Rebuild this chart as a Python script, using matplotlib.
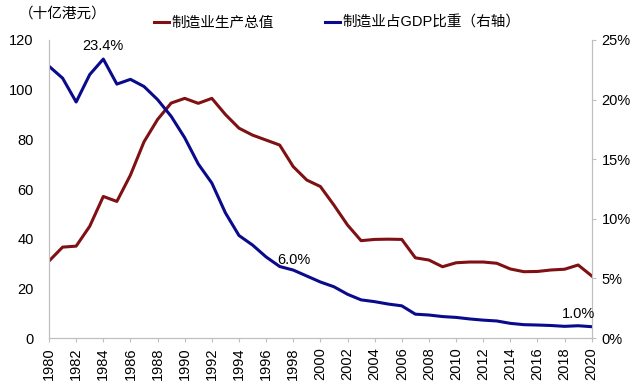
import matplotlib
matplotlib.use("Agg")
import matplotlib.pyplot as plt
from matplotlib.ticker import FuncFormatter

plt.rcParams['font.family'] = ['Liberation Sans', 'Noto Sans CJK SC', 'DejaVu Sans']

# data
years = list(range(1980, 2021))
output_value = [31, 36.6, 37, 45, 57, 55, 65.6, 79, 88, 94.6,
                96.5, 94.5, 96.5, 90, 84.5, 81.7, 79.7, 77.7, 69, 63.6,
                61, 53.5, 45.5, 39.2, 39.7, 39.8, 39.7, 32.3, 31.4, 28.7,
                30.3, 30.6, 30.6, 30.1, 27.8, 26.7, 26.8, 27.4, 27.7, 29.4,
                25]
gdp_share = [22.8, 21.8, 19.8, 22.1, 23.4, 21.3, 21.7, 21.1, 20.0, 18.6,
             16.8, 14.6, 13.0, 10.5, 8.6, 7.8, 6.8, 6.0, 5.7, 5.2,
             4.7, 4.3, 3.67, 3.2, 3.05, 2.85, 2.7, 2.0, 1.93, 1.8,
             1.73, 1.6, 1.5, 1.43, 1.23, 1.12, 1.09, 1.05, 0.98, 1.03,
             0.95]
xtick_years = list(range(1980, 2021, 2))
annotations = [(1984, 23.4), (1997, 6.0), (2020, 1.0)]

red = '#7F1014'
blue = '#0A0A8C'
grey = '#BFBFBF'

fig = plt.figure(figsize=(6.4, 3.91), dpi=100)
ax = fig.add_axes([0.0766, 0.1355, 0.848, 0.7622])
ax2 = ax.twinx()

l1, = ax.plot(years, output_value, color=red, lw=2.2, label='制造业生产总值')
l2, = ax2.plot(years, gdp_share, color=blue, lw=2.2, label='制造业占GDP比重（右轴）')

ax.set_xlim(1980, 2020)
ax.set_ylim(0, 120)
ax.set_yticks(range(0, 121, 20))
ax2.set_ylim(0, 25)
ax2.set_yticks(range(0, 26, 5))
ax2.yaxis.set_major_formatter(FuncFormatter(lambda v, p: f'{v:.0f}%'))
ax.set_xticks(xtick_years)
ax.set_xticklabels([str(y) for y in xtick_years], rotation=90)

for a in (ax, ax2):
    a.spines['top'].set_visible(False)
    for s in ('left', 'right', 'bottom'):
        a.spines[s].set_color(grey)
    a.tick_params(colors=grey, labelcolor='black', labelsize=10.5, length=3)
ax.tick_params(axis='y', length=0, pad=11)
ax2.tick_params(axis='y', length=3, pad=4)

# point labels
offsets = {1984: (0, 9.5), 1997: (10, 5), 2020: (-9.5, 8.6)}
for yr, val in annotations:
    dx, dy = offsets[yr]
    ax2.annotate(f'{val:.1f}%', xy=(yr, val), xytext=(dx, dy),
                 textcoords='offset points', ha='center', va='center', fontsize=10.5)

fig.text(0.03, 0.965, '（十亿港元）', fontsize=10.5, va='center', ha='left')
fig.legend(handles=[l1, l2], loc='center', bbox_to_anchor=(0.527, 0.942), ncol=2,
           frameon=False, fontsize=10.5, handlelength=1.0, handletextpad=0.2,
           columnspacing=3.5)

fig.savefig('out.png', dpi=100)
